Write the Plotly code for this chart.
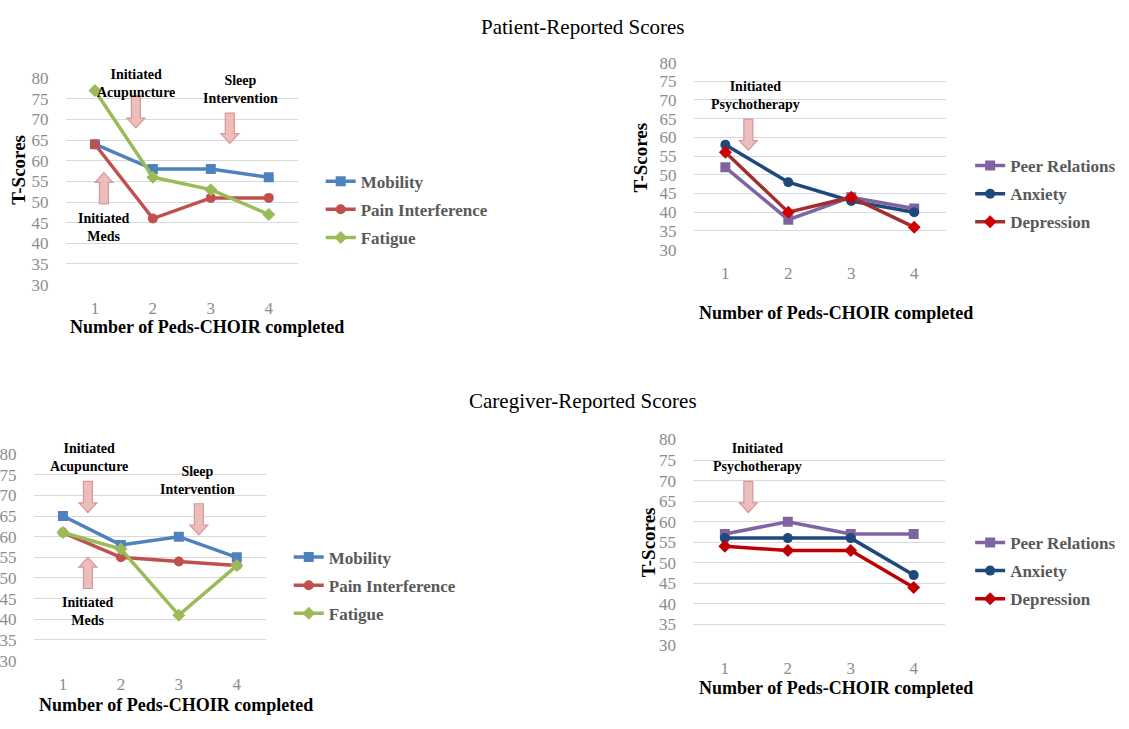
import plotly.graph_objects as go

# ---------------- data ----------------
visits = [1, 2, 3, 4]
y_ticks = [30, 35, 40, 45, 50, 55, 60, 65, 70, 75, 80]

pt_mobility = [64, 58, 58, 56]
pt_pain = [64, 46, 51, 51]
pt_fatigue = [77, 56, 53, 47]
pt_peer = [52, 38, 44, 41]
pt_anxiety = [58, 48, 43, 40]
pt_depression = [56, 40, 44, 36]

cg_mobility = [65, 58, 60, 55]
cg_pain = [61, 55, 54, 53]
cg_fatigue = [61, 57, 41, 53]
cg_peer = [57, 60, 57, 57]
cg_anxiety = [56, 56, 56, 47]
cg_depression = [54, 53, 53, 44]

# ---------------- layout helpers ----------------
W, H = 1129, 729
def px(x):
    return x / W
def py(y):
    return 1 - y / H

SERIF = "Liberation Serif"
TICK_FONT = dict(family=SERIF, size=17, color="#8C8C8C")
GRID = "#D9D9D9"

fig = go.Figure()

def add_series(vals, name, color, symbol, xa, ya, legend, mcolor=None, msize=10):
    fig.add_trace(go.Scatter(
        x=visits, y=vals, name=name, mode="lines+markers",
        line=dict(color=color, width=3.5),
        marker=dict(color=mcolor or color, symbol=symbol, size=msize),
        xaxis=xa, yaxis=ya, legend=legend, legendgroup=name + xa,
    ))

BLUE, RED, GREEN = "#4F81BD", "#C0504D", "#9BBB59"
PURPLE, NAVY = "#8064A2", "#1F497D"

add_series(pt_mobility, "Mobility", BLUE, "square", "x", "y", "legend")
add_series(pt_pain, "Pain Interference", RED, "circle", "x", "y", "legend")
add_series(pt_fatigue, "Fatigue", GREEN, "diamond", "x", "y", "legend")

add_series(pt_peer, "Peer Relations", PURPLE, "square", "x2", "y2", "legend2")
add_series(pt_anxiety, "Anxiety", NAVY, "circle", "x2", "y2", "legend2")
add_series(pt_depression, "Depression", "#A0302E", "diamond", "x2", "y2", "legend2", mcolor="#D00000")

add_series(cg_mobility, "Mobility", BLUE, "square", "x3", "y3", "legend3")
add_series(cg_pain, "Pain Interference", RED, "circle", "x3", "y3", "legend3")
add_series(cg_fatigue, "Fatigue", GREEN, "diamond", "x3", "y3", "legend3")

add_series(cg_peer, "Peer Relations", PURPLE, "square", "x4", "y4", "legend4")
add_series(cg_anxiety, "Anxiety", NAVY, "circle", "x4", "y4", "legend4")
add_series(cg_depression, "Depression", "#C00000", "diamond", "x4", "y4", "legend4")

# axis domains (pixel boxes)
boxes = {
    "": (65, 297, 71, 283),
    "2": (693.5, 945.5, 55, 247),
    "3": (33, 265, 457, 669),
    "4": (693, 945, 442, 653),
}

layout = dict(
    width=W, height=H, margin=dict(l=0, r=0, t=0, b=0),
    paper_bgcolor="white", plot_bgcolor="white", showlegend=True,
)
for k, (x0, x1, y0, y1) in boxes.items():
    layout["xaxis" + k] = dict(
        domain=[px(x0), px(x1)], anchor="y" + k, range=[0.5, 4.5],
        tickvals=visits, showgrid=False, zeroline=False, showline=False,
        ticks="outside", ticklen=8, tickcolor="rgba(0,0,0,0)",
        tickfont=TICK_FONT, fixedrange=True,
    )
    layout["yaxis" + k] = dict(
        domain=[py(y1), py(y0)], anchor="x" + k, range=[30, 80],
        tickvals=y_ticks, showgrid=True, gridcolor=GRID, gridwidth=1,
        zeroline=False, showline=False,
        ticks="outside", ticklen=13, tickcolor="rgba(0,0,0,0)",
        tickfont=TICK_FONT, fixedrange=True,
    )

LEG_FONT = dict(family=SERIF, size=17, color="#595959", weight="bold")
def legend_at(xp, ymid):
    return dict(x=px(xp), y=py(ymid), xanchor="left", yanchor="middle",
                font=LEG_FONT, traceorder="grouped", tracegroupgap=3,
                bgcolor="rgba(0,0,0,0)", itemwidth=30)

layout["legend"] = legend_at(320, 206)
layout["legend2"] = legend_at(970, 190)
layout["legend3"] = legend_at(288, 592)
layout["legend4"] = legend_at(970, 577)

fig.update_layout(**layout)

# ---------------- text annotations ----------------
def text(x, y, s, size=14, bold=True, color="black", angle=0):
    fig.add_annotation(
        x=px(x), y=py(y), xref="paper", yref="paper", text=s, showarrow=False,
        font=dict(family=SERIF, size=size, color=color,
                  weight="bold" if bold else "normal"),
        xanchor="center", yanchor="middle", textangle=angle,
    )

text(583, 18, "Patient-Reported Scores", size=21, bold=False)
text(583, 403, "Caregiver-Reported Scores", size=21, bold=False)

# axis titles
AX_SIZE = 18
text(206, 327, "Number of Peds-CHOIR completed", size=AX_SIZE)
text(836, 312, "Number of Peds-CHOIR completed", size=AX_SIZE)
text(175, 715, "Number of Peds-CHOIR completed", size=AX_SIZE)
text(836, 697, "Number of Peds-CHOIR completed", size=AX_SIZE)
text(18, 165, "T-Scores", size=19, angle=-90)
text(640, 152, "T-Scores", size=19, angle=-90)
text(648, 547, "T-Scores", size=19, angle=-90)

# intervention labels
text(135, 76, "Initiated<br>Acupuncture")
text(240, 83, "Sleep<br>Intervention")
text(103, 224, "Initiated<br>Meds")
text(755, 89, "Initiated<br>Psychotherapy")
text(88, 461, "Initiated<br>Acupuncture")
text(197, 484, "Sleep<br>Intervention")
text(87, 619, "Initiated<br>Meds")
text(757, 461, "Initiated<br>Psychotherapy")

# block arrows (pixel geometry -> paper coords)
def block_arrow(cx, y_tail, y_tip, shaft_w=9, head_w=18, head_h=10):
    d = 1 if y_tip > y_tail else -1
    y_neck = y_tip - d * head_h
    pts = [
        (cx - shaft_w / 2, y_tail), (cx + shaft_w / 2, y_tail),
        (cx + shaft_w / 2, y_neck), (cx + head_w / 2, y_neck),
        (cx, y_tip), (cx - head_w / 2, y_neck),
        (cx - shaft_w / 2, y_neck),
    ]
    path = "M " + " L ".join(f"{px(a):.5f},{py(b):.5f}" for a, b in pts) + " Z"
    fig.add_shape(type="path", path=path, xref="paper", yref="paper",
                  fillcolor="#EBBDBC", line=dict(color="#D99694", width=1.2))

block_arrow(135, 89, 122)
block_arrow(229, 107, 138)
block_arrow(103, 200, 168)
block_arrow(748, 113, 145)
block_arrow(87, 485, 517)
block_arrow(198, 508, 540)
block_arrow(87, 595, 563)
block_arrow(748, 485, 517)

fig.write_html(
    "out.html",
    config={"displayModeBar": False},
    post_script="document.body.style.margin='0';document.body.style.overflow='hidden';",
)
